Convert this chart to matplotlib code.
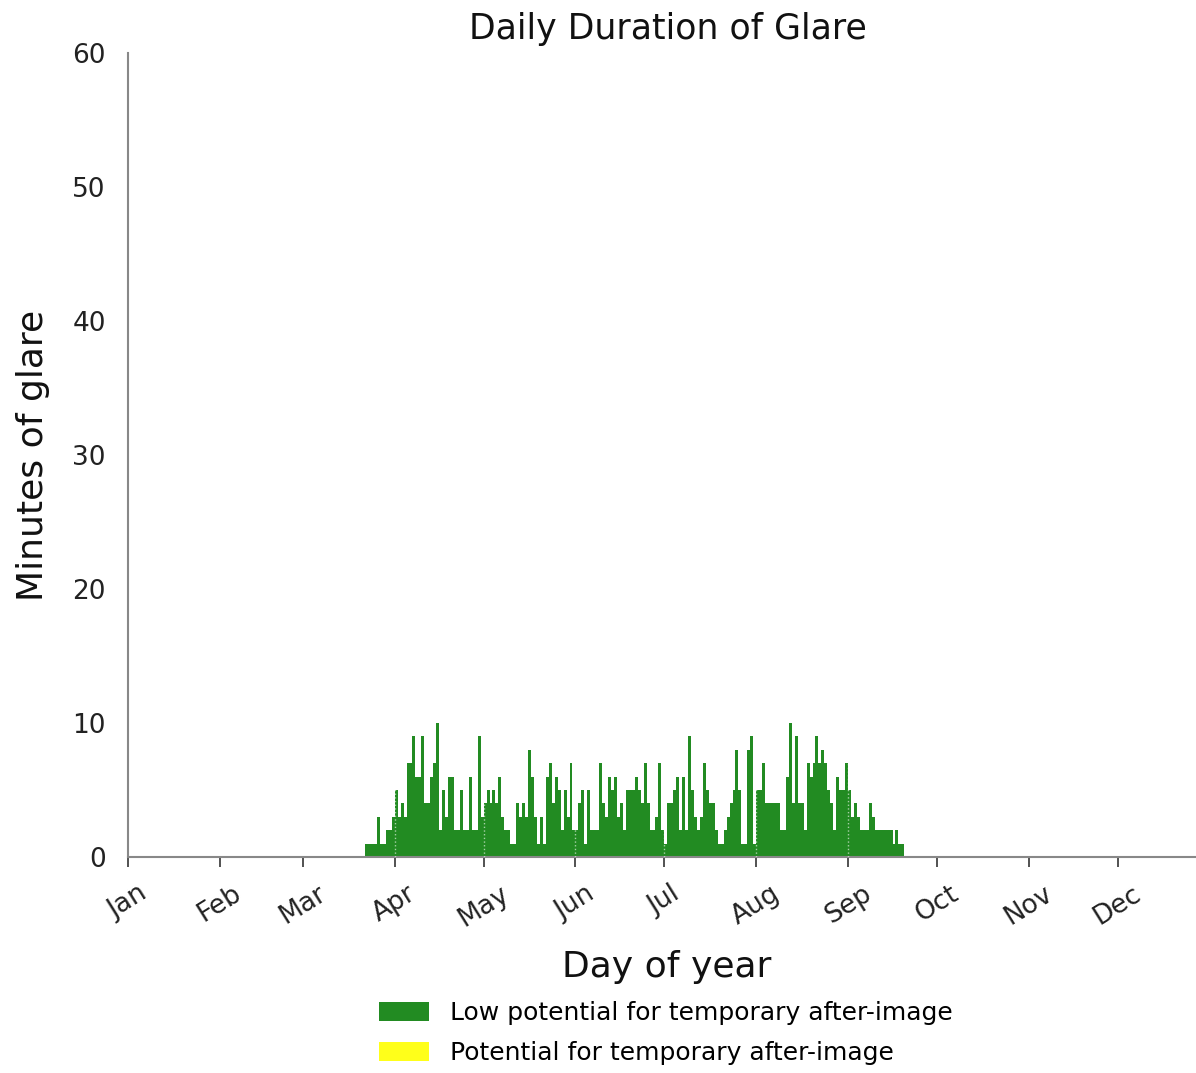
"""Daily duration of glare chart."""

import matplotlib
matplotlib.use("Agg")
import matplotlib.pyplot as plt
from matplotlib.patches import Patch

# Data: minutes of glare per day, starting at day of year 81
first_day = 81
minutes = [
    1, 1, 1, 1, 3, 1, 1, 2, 2, 3, 5, 3, 4, 3, 7, 7, 9, 6, 6, 9,
    4, 4, 6, 7, 10, 2, 5, 3, 6, 6, 2, 2, 5, 2, 2, 6, 2, 2, 9, 3,
    4, 5, 4, 5, 4, 6, 3, 2, 2, 1, 1, 4, 3, 4, 3, 8, 6, 3, 1, 3,
    1, 6, 7, 4, 6, 5, 2, 5, 3, 7, 2, 2, 4, 5, 1, 5, 2, 2, 2, 7,
    4, 3, 6, 5, 6, 3, 4, 2, 5, 5, 5, 6, 5, 4, 7, 4, 2, 2, 3, 7,
    2, 1, 4, 4, 5, 6, 2, 6, 2, 9, 5, 3, 2, 3, 7, 5, 4, 4, 2, 1,
    1, 2, 3, 4, 5, 8, 5, 1, 1, 8, 9, 1, 5, 5, 7, 4, 4, 4, 4, 4,
    2, 2, 6, 10, 4, 9, 4, 4, 2, 7, 6, 7, 9, 7, 8, 7, 5, 4, 2, 6,
    5, 5, 7, 5, 3, 4, 3, 2, 2, 2, 4, 3, 2, 2, 2, 2, 2, 2, 1, 2,
    1, 1,
]
days = [first_day + i for i in range(len(minutes))]

month_starts = [1, 32, 60, 91, 121, 152, 182, 213, 244, 274, 305, 335]
month_labels = ["Jan", "Feb", "Mar", "Apr", "May", "Jun",
                "Jul", "Aug", "Sep", "Oct", "Nov", "Dec"]
y_ticks = [0, 10, 20, 30, 40, 50, 60]

legend_labels = ["Low potential for temporary after-image",
                 "Potential for temporary after-image"]
green = "#228b22"
yellow = "#ffff1a"

fig = plt.figure(figsize=(11.96, 10.73), dpi=100)
ax = fig.add_axes([0.107, 0.2013, 0.892, 0.7493])

ax.bar(days, minutes, width=1.0, align="edge", color=green, linewidth=0)

# faint month separators, only visible over the bars
for d in month_starts:
    if days[0] < d < days[-1]:
        ax.axvline(d, color="white", linestyle=":", linewidth=1, alpha=0.6, zorder=3)

ax.set_xlim(1, 361)
ax.set_ylim(0, 60)
ax.set_xticks(month_starts)
ax.set_xticklabels(month_labels, rotation=32, ha="center", fontsize=19, color="#222222")
ax.set_yticks(y_ticks)
ax.set_yticklabels([str(v) for v in y_ticks], fontsize=19, color="#222222")
ax.tick_params(axis="x", direction="out", length=7, width=1.2, color="#333333", pad=10)
ax.tick_params(axis="y", length=0, pad=16)

for side in ("top", "right"):
    ax.spines[side].set_visible(False)
for side in ("left", "bottom"):
    ax.spines[side].set_color("#888888")
    ax.spines[side].set_linewidth(1.5)

ax.set_title("Daily Duration of Glare", fontsize=25, pad=10, color="#111111", x=0.506)
ax.set_xlabel("Day of year", fontsize=26, labelpad=13, color="#111111", x=0.505)
ax.set_ylabel("Minutes of glare", fontsize=26, labelpad=16, color="#111111")

handles = [Patch(facecolor=green), Patch(facecolor=yellow)]
fig.legend(handles, legend_labels, loc="center", bbox_to_anchor=(0.557, 0.037),
           frameon=False, fontsize=18, handlelength=2.0, handleheight=0.8,
           handletextpad=0.85, labelspacing=0.65)

fig.savefig("out.png", dpi=100)
